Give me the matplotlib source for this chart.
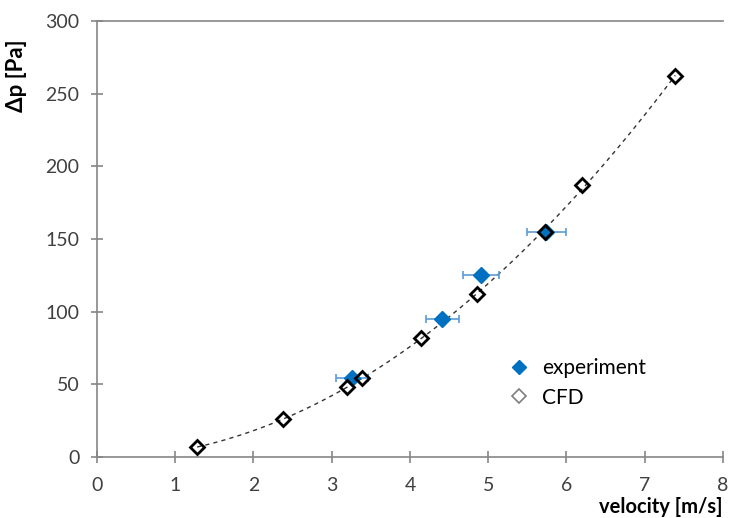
import numpy as np
import matplotlib.pyplot as plt

plt.rcParams['font.family'] = ['Lato', 'DejaVu Sans']

# CFD results
v_cfd = [1.28, 2.38, 3.20, 3.39, 4.14, 4.85, 5.73, 6.20, 7.39]
dp_cfd = [7, 26, 48, 54, 82, 112, 155, 187, 262]

# measured points with velocity uncertainty
v_exp = [3.26, 4.41, 4.91, 5.74]
dp_exp = [54, 95, 125, 155]
v_err = [0.20, 0.21, 0.23, 0.25]

xticks = np.arange(0, 9, 1)
yticks = np.arange(0, 301, 50)

fig = plt.figure(figsize=(7.32, 5.18), dpi=100)
ax = fig.add_axes([0.1325, 0.1178, 0.8552, 0.8417])

# quadratic trendline through the CFD points
coef = np.polyfit(v_cfd, dp_cfd, 2)
vv = np.linspace(min(v_cfd), max(v_cfd), 200)
ax.plot(vv, np.polyval(coef, vv), color='#333333', lw=1.0, ls=(0, (3, 3)), zorder=1)

ax.errorbar(v_exp, dp_exp, xerr=v_err, fmt='none', ecolor='#5b9bd5',
            elinewidth=1.2, capsize=3, capthick=1.2, zorder=2)
ax.plot(v_exp, dp_exp, 'D', color='#0070c0', ms=8, mec='#0070c0',
        label='experiment', zorder=3)
ax.plot(v_cfd, dp_cfd, 'D', mfc='none', mec='black', mew=2, ms=7,
        label='CFD', zorder=4)

ax.set_xlim(0, 8)
ax.set_ylim(0, 300)
ax.set_xticks(xticks)
ax.set_yticks(yticks)
for s in ['top', 'right']:
    ax.spines[s].set_visible(False)
for s in ['left', 'bottom']:
    ax.spines[s].set_color('#868686')
    ax.spines[s].set_linewidth(1.2)
ax.axhline(300, color='#868686', lw=1.2, clip_on=False)
ax.tick_params(direction='inout', length=9, width=1.2, color='#868686',
               labelsize=14, labelcolor='#404040')
ax.tick_params(axis='x', pad=10)
ax.tick_params(axis='y', pad=8)

ax.set_xlabel('velocity [m/s]', fontsize=14.5, fontweight='bold', loc='right', labelpad=2)
ax.set_ylabel('Δp [Pa]', fontsize=16, fontweight='bold')
ax.yaxis.set_label_coords(-0.112, 0.874)

leg = ax.legend(loc='lower left', bbox_to_anchor=(0.625, 0.07), frameon=False,
                fontsize=15, handletextpad=0.5, labelspacing=0.45, handlelength=1.2)
leg.legend_handles[1].set_markeredgecolor('#7f7f7f')
leg.legend_handles[1].set_markeredgewidth(1.2)
for h in leg.legend_handles:
    h.set_markersize(7)

fig.savefig('out.png', dpi=100)
